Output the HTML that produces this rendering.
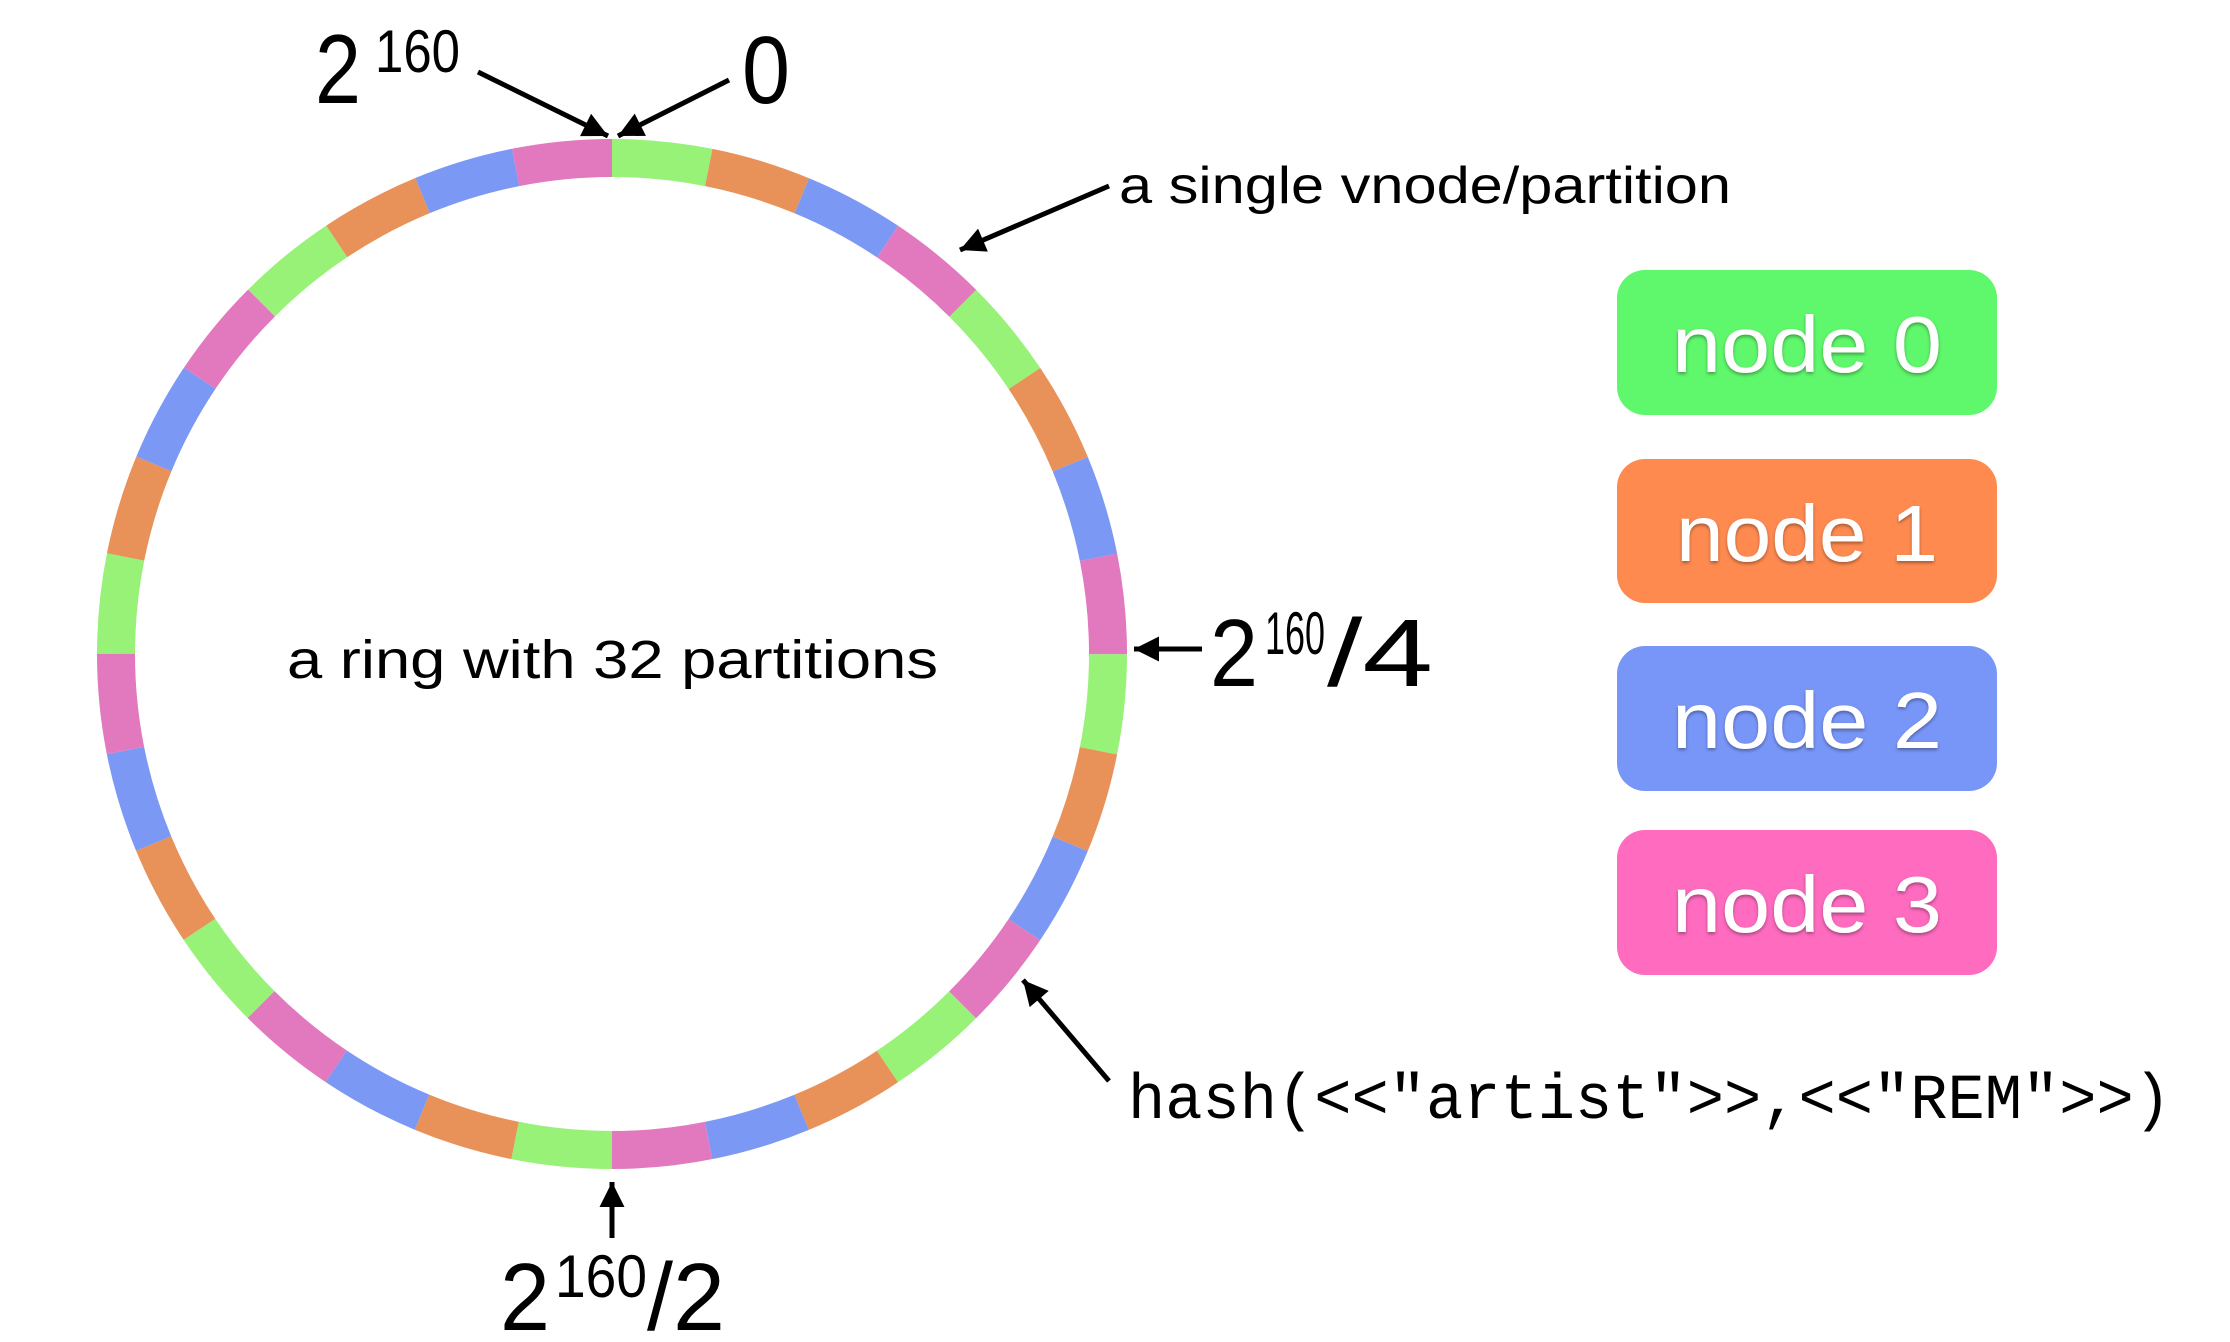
<!DOCTYPE html>
<html><head><meta charset="utf-8"><style>
html,body{margin:0;padding:0;background:#fff;}
svg{display:block;}
</style></head><body>
<svg width="2230" height="1342" viewBox="0 0 2230 1342" xmlns="http://www.w3.org/2000/svg">
<defs>
<marker id="a" viewBox="0 0 10 10" refX="10" refY="5" markerWidth="6" markerHeight="5" orient="auto">
<path d="M0,0 L10,5 L0,10 z" fill="#000"/>
</marker>
<filter id="sh" x="-10%" y="-10%" width="120%" height="130%"><feDropShadow dx="0" dy="2" stdDeviation="1.5" flood-color="#000" flood-opacity="0.35"/></filter>
</defs>
<g transform="rotate(-90 612 654)" fill="none" stroke-width="38">
<circle cx="612" cy="654" r="496" stroke="#98f277" stroke-dasharray="97.39 292.18" stroke-dashoffset="0"/>
<circle cx="612" cy="654" r="496" stroke="#e8925a" stroke-dasharray="97.39 292.18" stroke-dashoffset="-97.39"/>
<circle cx="612" cy="654" r="496" stroke="#7b98f5" stroke-dasharray="97.39 292.18" stroke-dashoffset="-194.78"/>
<circle cx="612" cy="654" r="496" stroke="#e278bd" stroke-dasharray="97.39 292.18" stroke-dashoffset="-292.17"/>
</g>
<g stroke="#000" stroke-width="5" fill="none" marker-end="url(#a)">
<line x1="478" y1="72" x2="608" y2="136"/>
<line x1="729" y1="80" x2="618" y2="136"/>
<line x1="1109" y1="186" x2="960" y2="250"/>
<line x1="1202" y1="649" x2="1134" y2="649"/>
<line x1="1109" y1="1081" x2="1023" y2="980"/>
<line x1="612" y1="1238" x2="612" y2="1182"/>
</g>
<g font-family="Liberation Sans, sans-serif" fill="#000">
<text x="315" y="103" font-size="98" textLength="46" lengthAdjust="spacingAndGlyphs">2</text>
<text x="375" y="72" font-size="60" textLength="85" lengthAdjust="spacingAndGlyphs">160</text>
<text x="742" y="103" font-size="96" textLength="48" lengthAdjust="spacingAndGlyphs">0</text>
<text x="1119" y="203" font-size="52" textLength="612" lengthAdjust="spacingAndGlyphs">a single vnode/partition</text>
<text x="287" y="678" font-size="54" textLength="651" lengthAdjust="spacingAndGlyphs">a ring with 32 partitions</text>
<text x="1210" y="686" font-size="96" textLength="48" lengthAdjust="spacingAndGlyphs">2</text>
<text x="1265" y="654" font-size="60" textLength="60" lengthAdjust="spacingAndGlyphs">160</text>
<text x="1327" y="686" font-size="96" textLength="106" lengthAdjust="spacingAndGlyphs">/4</text>
<text x="500" y="1330" font-size="96" textLength="50" lengthAdjust="spacingAndGlyphs">2</text>
<text x="555" y="1297" font-size="60" textLength="92" lengthAdjust="spacingAndGlyphs">160</text>
<text x="647" y="1330" font-size="96" textLength="78" lengthAdjust="spacingAndGlyphs">/2</text>
</g>
<text x="1128" y="1118" font-family="Liberation Mono, DejaVu Sans Mono, monospace" font-size="64" textLength="1043" lengthAdjust="spacingAndGlyphs" fill="#000">hash(&lt;&lt;"artist"&gt;&gt;,&lt;&lt;"REM"&gt;&gt;)</text>
<rect x="1617" y="270" width="380" height="145" rx="28" fill="#5ff76b"/>
<rect x="1617" y="459" width="380" height="144" rx="28" fill="#fe8a50"/>
<rect x="1617" y="646" width="380" height="145" rx="28" fill="#7896f8"/>
<rect x="1617" y="830" width="380" height="145" rx="28" fill="#fe6bbf"/>
<g font-family="Liberation Sans, sans-serif" font-size="80" fill="#fff" text-anchor="middle" filter="url(#sh)">
<text x="1807" y="372" textLength="270" lengthAdjust="spacingAndGlyphs">node 0</text>
<text x="1807" y="561" textLength="262" lengthAdjust="spacingAndGlyphs">node 1</text>
<text x="1807" y="748" textLength="270" lengthAdjust="spacingAndGlyphs">node 2</text>
<text x="1807" y="932" textLength="270" lengthAdjust="spacingAndGlyphs">node 3</text>
</g>
</svg>
</body></html>
